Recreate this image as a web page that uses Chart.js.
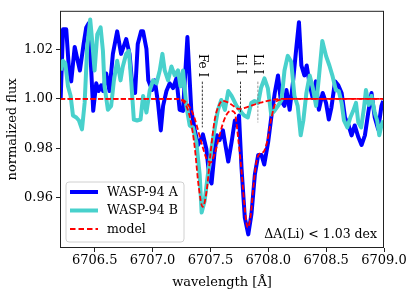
<!DOCTYPE html>
<html>
<head>
<meta charset="utf-8">
<script src="https://cdn.jsdelivr.net/npm/chart.js@4"></script>
<style>
  body { margin: 0; background: #fff; }
</style>
</head>
<body>
<canvas id="chart" width="415" height="295"></canvas>
<script>
// WASP-94 A spectrum
const waveA = [6706.206, 6706.226, 6706.254, 6706.278, 6706.297, 6706.327, 6706.355, 6706.372, 6706.404, 6706.427,
  6706.447, 6706.470, 6706.487, 6706.513, 6706.534, 6706.556, 6706.573, 6706.599, 6706.628, 6706.657,
  6706.694, 6706.728, 6706.749, 6706.772, 6706.801, 6706.829, 6706.849, 6706.872, 6706.901, 6706.918,
  6706.947, 6706.963, 6706.996, 6707.019, 6707.047, 6707.071, 6707.091, 6707.120, 6707.148, 6707.177,
  6707.206, 6707.234, 6707.263, 6707.301, 6707.335, 6707.364, 6707.392, 6707.416, 6707.435, 6707.465,
  6707.493, 6707.510, 6707.536, 6707.556, 6707.579, 6707.608, 6707.625, 6707.654, 6707.683, 6707.711,
  6707.732, 6707.747, 6707.769, 6707.797, 6707.827, 6707.855, 6707.884, 6707.913, 6707.941, 6707.965,
  6707.999, 6708.028, 6708.056, 6708.084, 6708.108, 6708.140, 6708.157, 6708.185, 6708.215, 6708.243,
  6708.265, 6708.286, 6708.312, 6708.332, 6708.359, 6708.384, 6708.411, 6708.437, 6708.470, 6708.499,
  6708.523, 6708.545, 6708.577, 6708.605, 6708.634, 6708.663, 6708.691, 6708.720, 6708.747, 6708.778,
  6708.806, 6708.835, 6708.864, 6708.892, 6708.920, 6708.950, 6708.978, 6708.993];
const fluxA = [1.0004, 1.0281, 1.0281, 1.0115, 1.0071, 1.0210, 1.0150, 1.0115, 1.0222, 1.0289,
  1.0305, 1.0115, 0.9952, 1.0063, 1.0032, 1.0055, 1.0032, 1.0103, 1.0032, 1.0182,
  1.0273, 1.0182, 1.0210, 1.0242, 1.0182, 1.0032, 1.0024, 1.0222, 1.0273, 1.0273,
  1.0202, 1.0075, 1.0036, 1.0075, 0.9984, 0.9873, 0.9972, 1.0032, 1.0063, 1.0044,
  1.0083, 0.9956, 0.9952, 1.0250, 0.9952, 0.9877, 0.9814, 0.9834, 0.9857, 0.9798,
  0.9675, 0.9659, 0.9786, 0.9853, 0.9834, 0.9873, 0.9826, 0.9747, 0.9826, 0.9913,
  0.9893, 0.9933, 0.9719, 0.9521, 0.9453, 0.9537, 0.9695, 0.9774, 0.9774, 0.9735,
  0.9826, 0.9933, 1.0024, 1.0095, 0.9996, 0.9972, 1.0036, 0.9956, 1.0075, 1.0210,
  1.0310, 1.0135, 1.0095, 1.0135, 1.0055, 1.0004, 1.0071, 0.9956, 1.0024, 0.9984,
  0.9917, 0.9964, 1.0071, 1.0055, 1.0024, 0.9925, 0.9897, 0.9853, 0.9893, 0.9846,
  0.9814, 0.9853, 0.9945, 1.0024, 0.9925, 0.9877, 0.9972, 0.9992];

// WASP-94 B spectrum
const waveB = [6706.206, 6706.226, 6706.246, 6706.269, 6706.292, 6706.312, 6706.341, 6706.364, 6706.390, 6706.413,
  6706.435, 6706.461, 6706.478, 6706.499, 6706.522, 6706.551, 6706.571, 6706.585, 6706.614, 6706.642,
  6706.666, 6706.694, 6706.723, 6706.743, 6706.772, 6706.795, 6706.815, 6706.838, 6706.866, 6706.896,
  6706.918, 6706.947, 6706.976, 6707.004, 6707.034, 6707.062, 6707.085, 6707.105, 6707.134, 6707.163,
  6707.191, 6707.220, 6707.241, 6707.263, 6707.292, 6707.321, 6707.349, 6707.378, 6707.407, 6707.424,
  6707.450, 6707.478, 6707.508, 6707.536, 6707.565, 6707.594, 6707.625, 6707.654, 6707.683, 6707.726,
  6707.769, 6707.792, 6707.823, 6707.853, 6707.881, 6707.913, 6707.937, 6707.967, 6707.996, 6708.025,
  6708.053, 6708.084, 6708.114, 6708.140, 6708.168, 6708.198, 6708.226, 6708.254, 6708.280, 6708.303,
  6708.329, 6708.358, 6708.385, 6708.413, 6708.439, 6708.467, 6708.499, 6708.528, 6708.556, 6708.584,
  6708.609, 6708.634, 6708.654, 6708.683, 6708.709, 6708.734, 6708.758, 6708.778, 6708.803, 6708.827,
  6708.844, 6708.868, 6708.892, 6708.920, 6708.941, 6708.959, 6708.978, 6708.993];
const fluxB = [1.0115, 1.0154, 1.0143, 1.0051, 1.0012, 0.9933, 0.9925, 0.9913, 0.9877, 0.9984,
  1.0210, 1.0321, 1.0234, 1.0115, 1.0261, 1.0289, 1.0194, 1.0051, 0.9956, 0.9972,
  1.0075, 1.0154, 1.0075, 1.0131, 1.0182, 1.0194, 1.0075, 0.9917, 0.9913, 0.9917,
  1.0012, 0.9945, 1.0036, 1.0075, 1.0063, 1.0115, 1.0182, 1.0115, 1.0075, 1.0131,
  1.0095, 1.0115, 1.0051, 1.0115, 0.9972, 0.9893, 0.9885, 0.9826, 0.9695, 0.9541,
  0.9588, 0.9695, 0.9798, 0.9877, 0.9956, 0.9996, 0.9956, 1.0032, 1.0012, 0.9972,
  0.9945, 0.9933, 0.9925, 0.9984, 0.9992, 0.9984, 1.0044, 1.0083, 1.0044, 0.9937,
  0.9952, 0.9972, 0.9996, 1.0115, 1.0174, 1.0150, 1.0012, 0.9972, 0.9853, 0.9913,
  1.0024, 1.0095, 1.0044, 0.9972, 1.0095, 1.0234, 1.0174, 1.0135, 1.0091, 1.0036,
  1.0032, 0.9984, 0.9913, 0.9885, 0.9925, 0.9952, 0.9984, 0.9905, 0.9885, 0.9964,
  1.0036, 0.9976, 1.0012, 0.9945, 0.9913, 0.9853, 0.9893, 0.9913];

// model spectra
const waveModel = [6706.200, 6707.217, 6707.260, 6707.295, 6707.329, 6707.364, 6707.398, 6707.433, 6707.467, 6707.502,
  6707.536, 6707.571, 6707.605, 6707.640, 6707.674, 6707.709, 6707.743, 6707.769, 6707.797, 6707.822,
  6707.848, 6707.872, 6707.898, 6707.924, 6707.959, 6707.993, 6708.028, 6708.062, 6708.097, 6708.183, 6709.000];
const modelA = [1.0000, 1.0000, 0.9996, 0.9984, 0.9960, 0.9921, 0.9865, 0.9806, 0.9758, 0.9743,
  0.9778, 0.9838, 0.9897, 0.9937, 0.9952, 0.9945, 0.9826, 0.9707, 0.9556, 0.9481,
  0.9529, 0.9648, 0.9747, 0.9778, 0.9786, 0.9834, 0.9925, 0.9984, 0.9996, 1.0000, 1.0000];
const modelB = [1.0000, 1.0000, 0.9992, 0.9968, 0.9913, 0.9806, 0.9648, 0.9564, 0.9628, 0.9786,
  0.9913, 0.9972, 0.9992, 0.9988, 0.9980, 0.9968, 0.9960, 0.9960, 0.9964, 0.9968,
  0.9972, 0.9976, 0.9980, 0.9984, 0.9988, 0.9992, 0.9996, 0.9998, 1.0000, 1.0000, 1.0000];

const xTicks = [6706.5, 6707.0, 6707.5, 6708.0, 6708.5, 6709.0];
const yTicks = [0.96, 0.98, 1.00, 1.02];

// line identifications
const lineWaves = [6707.43, 6707.76, 6707.91];
const lineNames = ['Fe I', 'Li I', 'Li I'];
const lineColors = ['#222', '#222', '#888'];
const lineTop = [1.007, 1.007, 1.007];
const lineBottom = [0.9885, 0.9945, 0.9905];
const labelTop = 1.0182;

const legendNames = ['WASP-94 A', 'WASP-94 B', 'model'];
const noteText = 'ΔA(Li) < 1.03 dex';

const SERIF = '"DejaVu Serif", serif';
const DASH = [5.2, 2.4];
const pts = (xs, ys) => xs.map((x, i) => ({ x: x, y: ys[i] }));

const extras = {
  id: 'extras',
  afterDatasetsDraw(chart) {
    const ctx = chart.ctx;
    const xs = chart.scales.x, ys = chart.scales.y;
    const a = chart.chartArea;

    // line markers
    ctx.save();
    ctx.font = '12px ' + SERIF;
    lineWaves.forEach((w, i) => {
      const px = xs.getPixelForValue(w);
      ctx.strokeStyle = lineColors[i];
      ctx.lineWidth = 0.9;
      ctx.setLineDash([2.5, 1.5]);
      ctx.beginPath();
      ctx.moveTo(px, ys.getPixelForValue(lineTop[i]));
      ctx.lineTo(px, ys.getPixelForValue(lineBottom[i]));
      ctx.stroke();
      ctx.save();
      ctx.translate(px - 0.5, ys.getPixelForValue(labelTop));
      ctx.rotate(Math.PI / 2);
      ctx.fillStyle = '#000';
      ctx.textAlign = 'left';
      ctx.textBaseline = 'middle';
      ctx.fillText(lineNames[i], 0, 0);
      ctx.restore();
    });
    ctx.restore();

    // note
    ctx.save();
    ctx.font = '12.5px ' + SERIF;
    ctx.fillStyle = '#000';
    ctx.textAlign = 'right';
    ctx.textBaseline = 'middle';
    ctx.fillText(noteText, a.right - 7, a.bottom - 13);
    ctx.restore();

    // legend
    const ds = chart.data.datasets;
    const bx = a.left + 6, by = a.bottom - 66, bw = 118, bh = 60;
    ctx.save();
    ctx.beginPath();
    ctx.roundRect(bx, by, bw, bh, 3);
    ctx.fillStyle = 'rgba(255,255,255,0.8)';
    ctx.fill();
    ctx.strokeStyle = '#d0d0d0';
    ctx.lineWidth = 1;
    ctx.stroke();
    ctx.font = '12.5px ' + SERIF;
    ctx.textBaseline = 'middle';
    legendNames.forEach((name, i) => {
      const d = ds[i];
      const ry = by + 10 + i * 18.5;
      ctx.strokeStyle = d.borderColor;
      ctx.lineWidth = d.borderWidth;
      ctx.setLineDash(d.borderDash ? [5.5, 3] : []);
      ctx.beginPath();
      ctx.moveTo(bx + 4, ry);
      ctx.lineTo(bx + 32, ry);
      ctx.stroke();
      ctx.fillStyle = '#000';
      ctx.fillText(name, bx + 41, ry + 0.5);
    });
    ctx.restore();

    // frame
    ctx.save();
    ctx.strokeStyle = '#222';
    ctx.lineWidth = 1;
    ctx.strokeRect(a.left + 0.5, a.top + 0.5, a.right - a.left - 1, a.bottom - a.top - 1);
    ctx.restore();
  }
};

new Chart(document.getElementById('chart').getContext('2d'), {
  type: 'line',
  data: {
    datasets: [
      { label: 'WASP-94 A', data: pts(waveA, fluxA), borderColor: '#0000ff', borderWidth: 4,
        pointRadius: 0, borderJoinStyle: 'round', order: 2 },
      { label: 'WASP-94 B', data: pts(waveB, fluxB), borderColor: '#48d1cc', borderWidth: 4,
        pointRadius: 0, borderJoinStyle: 'round', order: 1 },
      { label: 'model', data: pts(waveModel, modelA), borderColor: '#ff0000', borderWidth: 1.8,
        borderDash: DASH, pointRadius: 0, cubicInterpolationMode: 'monotone', order: 0 },
      { label: 'model B', data: pts(waveModel, modelB), borderColor: '#ff0000', borderWidth: 1.8,
        borderDash: DASH, pointRadius: 0, cubicInterpolationMode: 'monotone', order: 0 }
    ]
  },
  options: {
    responsive: false,
    animation: false,
    devicePixelRatio: 1,
    layout: { padding: { left: 0, right: 31, top: 6, bottom: 0 } },
    plugins: { legend: { display: false }, tooltip: { enabled: false } },
    scales: {
      x: {
        type: 'linear', min: 6706.2, max: 6709.0,
        afterBuildTicks: s => { s.ticks = xTicks.map(v => ({ value: v })); },
        afterFit: s => { s.height = 47; },
        ticks: { color: '#000', font: { family: SERIF, size: 13 }, padding: 1, maxRotation: 0,
          callback: v => v.toFixed(1) },
        grid: { drawOnChartArea: false, drawTicks: true, tickLength: 4, color: '#222' },
        border: { display: false },
        title: { display: true, text: 'wavelength [Å]', color: '#000', font: { family: SERIF, size: 13 },
          padding: { top: 0, bottom: 5 } }
      },
      y: {
        type: 'linear', min: 0.9398, max: 1.0356,
        afterBuildTicks: s => { s.ticks = yTicks.map(v => ({ value: v })); },
        afterFit: s => { s.width = 60; },
        ticks: { color: '#000', font: { family: SERIF, size: 13 }, padding: 3,
          callback: v => v.toFixed(2) },
        grid: { drawOnChartArea: false, drawTicks: true, tickLength: 4, color: '#222' },
        border: { display: false },
        title: { display: true, text: 'normalized flux', color: '#000', font: { family: SERIF, size: 13 },
          padding: { top: 5, bottom: 0 } }
      }
    }
  },
  plugins: [extras]
});
</script>
</body>
</html>
